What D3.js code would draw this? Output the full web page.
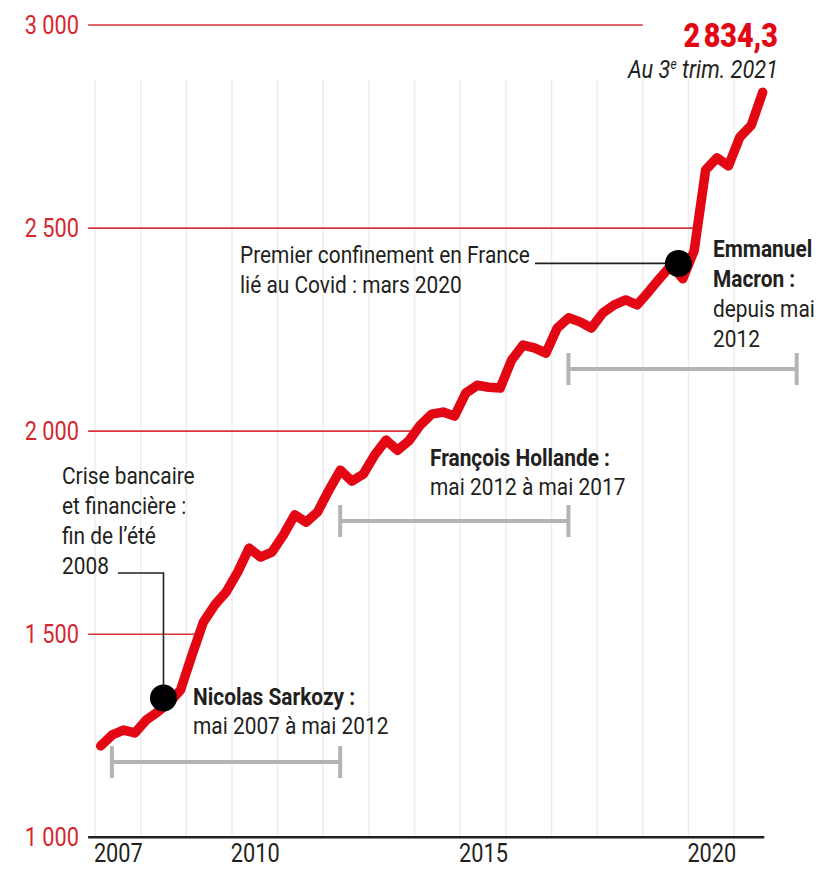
<!DOCTYPE html>
<html>
<head>
<meta charset="utf-8">
<script src="https://cdn.jsdelivr.net/npm/d3@7"></script>
<style>
  body { margin: 0; background: #fff; }
  svg { display: block; }
  text { font-family: Roboto, 'Noto Sans', sans-serif; }
</style>
</head>
<body>
<div id="chart"></div>
<script>
// dette publique, en milliards d'euros, par trimestre (T1 2007 -> T3 2021)
const years = [2007, 2008, 2009, 2010, 2011, 2012, 2013, 2014, 2015, 2016, 2017, 2018, 2019, 2020, 2021];
const debtValues = [
  1225, 1252, 1264, 1257,
  1289, 1309, 1331, 1363,
  1449, 1530, 1572, 1604,
  1653, 1712, 1690, 1702,
  1744, 1794, 1776, 1801,
  1855, 1904, 1877, 1894,
  1941, 1978, 1953, 1976,
  2015, 2042, 2047, 2037,
  2094, 2113, 2108, 2106,
  2175, 2212, 2205, 2192,
  2254, 2279, 2269, 2254,
  2291, 2311, 2323, 2311,
  2343, 2377, 2409, 2375,
  2445, 2643, 2673, 2653,
  2724, 2753, 2834.3
];
const yTicks = [1000, 1500, 2000, 2500, 3000];
const xTickYears = [2007, 2010, 2015, 2020];

// mandats
const termNames = ["Nicolas Sarkozy :", "François Hollande :", "Emmanuel Macron :"];
const termStarts = [2007.37, 2012.37, 2017.37];
const termEnds = [2012.37, 2017.37, 2022.37];

// événements
const crisisPoint = { t: 2008.5, v: 1343 };
const covidPoint = { t: 2019.78, v: 2413 };

const width = 816, height = 869;
const red = "#e30613";
const ink = "#231f20";

const quarters = [];
years.forEach(y => [0, 1, 2, 3].forEach(q => quarters.push(y + q / 4 + 0.125)));
const data = debtValues.map((v, i) => ({ t: quarters[i], v: v }));

const x = d3.scaleLinear().domain([2007, 2020]).range([95, 688.5]);
const y = d3.scaleLinear().domain([1000, 3000]).range([837.3, 25]);

// séparateur de milliers à la française
const frNum = d3.formatLocale({ decimal: ",", thousands: " ", grouping: [3], currency: ["", " €"] });

const svg = d3.select("#chart").append("svg")
  .attr("width", width)
  .attr("height", height);

// la police de la maquette est étroite : on mesure Roboto et on la resserre
const probe = svg.append("text").style("font-size", "24px").text("Premier confinement en France");
const squeezeK = 290 / probe.node().getComputedTextLength();
probe.remove();

const squeeze = function (sel) {
  sel.each(function () {
    const t = d3.select(this);
    const x0 = +t.attr("x") || 0, y0 = +t.attr("y") || 0;
    t.attr("x", 0).attr("y", 0)
      .attr("transform", "translate(" + x0 + "," + y0 + ") scale(" + squeezeK + ",1)");
  });
};

// quadrillage vertical (années)
svg.append("g").selectAll("line")
  .data(years)
  .join("line")
  .attr("x1", d => x(d)).attr("x2", d => x(d))
  .attr("y1", y(2865)).attr("y2", y(1000))
  .attr("stroke", "#ededed")
  .attr("stroke-width", 1.5);

// lignes horizontales rouges, elles s'arretent sur la courbe
const crossX = function (v) {
  for (let i = 0; i < data.length - 1; i++) {
    const a = data[i], b = data[i + 1];
    if (a.v < v && b.v >= v) {
      return x(a.t) + (v - a.v) / (b.v - a.v) * (x(b.t) - x(a.t));
    }
  }
  return x(2019);
};
svg.append("g").selectAll("line")
  .data(yTicks.filter(d => d > 1000))
  .join("line")
  .attr("x1", x(2006.85))
  .attr("x2", d => crossX(d))
  .attr("y1", d => y(d)).attr("y2", d => y(d))
  .attr("stroke", "#d8343a")
  .attr("stroke-width", 1.6);

// axe Y
const yAxis = svg.append("g")
  .attr("transform", "translate(79,0)")
  .call(d3.axisLeft(y).tickValues(yTicks).tickSize(0).tickPadding(0)
    .tickFormat(frNum.format(",")));
yAxis.select(".domain").remove();
yAxis.selectAll("text")
  .attr("fill", "#d6262d")
  .style("font-size", "25px")
  .style("font-family", null)
  .call(squeeze);

// axe X
const xAxis = svg.append("g")
  .attr("transform", "translate(0," + y(1000) + ")")
  .call(d3.axisBottom(x).tickValues(xTickYears.map(d => d + 0.5)).tickSize(0).tickPadding(7)
    .tickFormat(d => String(Math.floor(d))));
xAxis.select(".domain").remove();
xAxis.selectAll("text")
  .attr("fill", ink)
  .attr("dy", "0.71em")
  .style("font-size", "25px")
  .style("font-family", null)
  .call(squeeze);
svg.append("line")
  .attr("x1", x(2006.85)).attr("x2", x(2021.66))
  .attr("y1", y(1000)).attr("y2", y(1000))
  .attr("stroke", ink)
  .attr("stroke-width", 2.5);

// mandats
const bracketY = [762, 521, 369];
termNames.forEach((name, i) => {
  const g = svg.append("g").attr("stroke", "#b4b4b4").attr("stroke-width", 4);
  g.append("line")
    .attr("x1", x(termStarts[i])).attr("x2", x(termEnds[i]))
    .attr("y1", bracketY[i]).attr("y2", bracketY[i]);
  [termStarts[i], termEnds[i]].forEach(t => {
    g.append("line")
      .attr("x1", x(t)).attr("x2", x(t))
      .attr("y1", bracketY[i] - 16).attr("y2", bracketY[i] + 16);
  });
});

// courbe
svg.append("path")
  .datum(data)
  .attr("fill", "none")
  .attr("stroke", red)
  .attr("stroke-width", 9.5)
  .attr("stroke-linejoin", "round")
  .attr("stroke-linecap", "round")
  .attr("d", d3.line().x(d => x(d.t)).y(d => y(d.v)));

// lignes de rappel
svg.append("path")
  .attr("fill", "none")
  .attr("stroke", ink)
  .attr("stroke-width", 1.6)
  .attr("d", "M118,573H" + x(crisisPoint.t) + "V" + y(crisisPoint.v));
svg.append("line")
  .attr("x1", 535).attr("x2", x(covidPoint.t))
  .attr("y1", y(covidPoint.v)).attr("y2", y(covidPoint.v))
  .attr("stroke", ink)
  .attr("stroke-width", 1.6);

svg.append("g").selectAll("circle")
  .data([crisisPoint, covidPoint])
  .join("circle")
  .attr("cx", d => x(d.t))
  .attr("cy", d => y(d.v))
  .attr("r", 13.5)
  .attr("fill", "#000");

// textes
const addLines = function (x0, y0, lines, step) {
  lines.forEach((l, i) => {
    svg.append("text")
      .attr("x", x0)
      .attr("y", y0 + i * step)
      .attr("fill", ink)
      .style("font-size", "24px")
      .style("font-weight", l.bold ? "bold" : "normal")
      .text(l.t)
      .call(squeeze);
  });
};

addLines(240, 263, [{ t: "Premier confinement en France" }, { t: "lié au Covid : mars 2020" }], 30);
addLines(62, 484, [{ t: "Crise bancaire" }, { t: "et financière :" }, { t: "fin de l’été" }, { t: "2008" }], 30);
addLines(193, 705, [{ t: termNames[0], bold: true }, { t: "mai 2007 à mai 2012" }], 29);
addLines(430, 466, [{ t: termNames[1], bold: true }, { t: "mai 2012 à mai 2017" }], 29);
addLines(713, 257, [{ t: "Emmanuel", bold: true }, { t: "Macron :", bold: true }, { t: "depuis mai" }, { t: "2012" }], 30);

svg.append("text")
  .attr("x", 778).attr("y", 47)
  .attr("text-anchor", "end")
  .attr("fill", red)
  .style("font-size", "33px")
  .style("font-weight", "900")
  .style("word-spacing", "-4px")
  .text(frNum.format(",.1f")(debtValues[debtValues.length - 1]))
  .call(squeeze);

const sub = svg.append("text")
  .attr("x", 778).attr("y", 78)
  .attr("text-anchor", "end")
  .attr("fill", ink)
  .style("font-size", "25px")
  .style("font-style", "italic");
sub.append("tspan").text("Au 3");
sub.append("tspan").attr("dy", -9).style("font-size", "14px").text("e");
sub.append("tspan").attr("dy", 9).text(" trim. 2021");
sub.call(squeeze);
</script>
</body>
</html>
